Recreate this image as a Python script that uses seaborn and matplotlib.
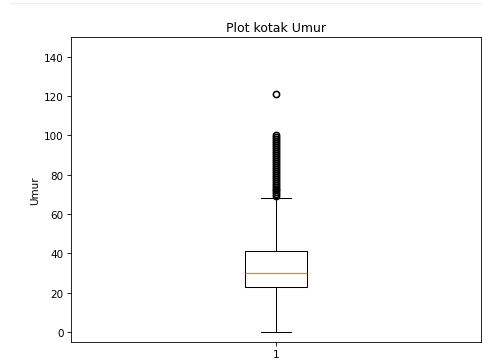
import numpy as np
import seaborn as sns
import matplotlib
matplotlib.use("Agg")
import matplotlib.pyplot as plt
from matplotlib.lines import Line2D

# ages (core of the distribution) and how many rows have each age
ages = [0, 2, 5, 10, 15, 18, 20, 22, 23, 25, 28, 30, 33, 36, 39, 41, 45, 50, 55, 60, 68]
counts = [1, 2, 3, 4, 6, 10, 12, 15, 15, 15, 15, 15, 12, 12, 12, 12, 8, 7, 2, 1, 1]
# the high ages that fall past the upper whisker
outliers = [69, 70, 71, 72, 73, 74, 75, 76, 77, 78, 79, 80, 81, 82, 83, 84,
            85, 86, 87, 88, 89, 90, 91, 92, 93, 94, 95, 96, 97, 98, 99, 100, 121]
tick_label = ["1"]

umur = np.concatenate([np.repeat(ages, counts), outliers]).astype(float)

fig = plt.figure(figsize=(483 / 75, 365 / 75), dpi=75)
ax = fig.add_axes([71 / 483, 22 / 365, 410 / 483, 305 / 365])

sns.boxplot(y=umur, ax=ax, width=0.15, linewidth=1.0,
            color="white", linecolor="black",
            boxprops=dict(facecolor="white", edgecolor="black"),
            medianprops=dict(color="#ff7f0e", linewidth=1.2),
            whiskerprops=dict(color="black"),
            capprops=dict(color="black"),
            flierprops=dict(marker="o", markerfacecolor="none",
                            markeredgecolor="black", markersize=6,
                            markeredgewidth=1.5))

ax.set_xlim(-0.5, 0.5)
ax.set_xticks([0])
ax.set_xticklabels(tick_label)
ax.set_ylim(-5, 150)
ax.set_yticks(range(0, 141, 20))
ax.set_ylabel("Umur")
ax.set_xlabel("")
ax.set_title("Plot kotak Umur")
for s in ax.spines.values():
    s.set_visible(True)
    s.set_color("black")

# faint separator line at the top of the notebook cell
fig.add_artist(Line2D([10 / 483, 1], [1 - 4 / 365, 1 - 4 / 365],
                      color="#eeeeee", lw=1, transform=fig.transFigure))

fig.savefig("out.png", dpi=75)
